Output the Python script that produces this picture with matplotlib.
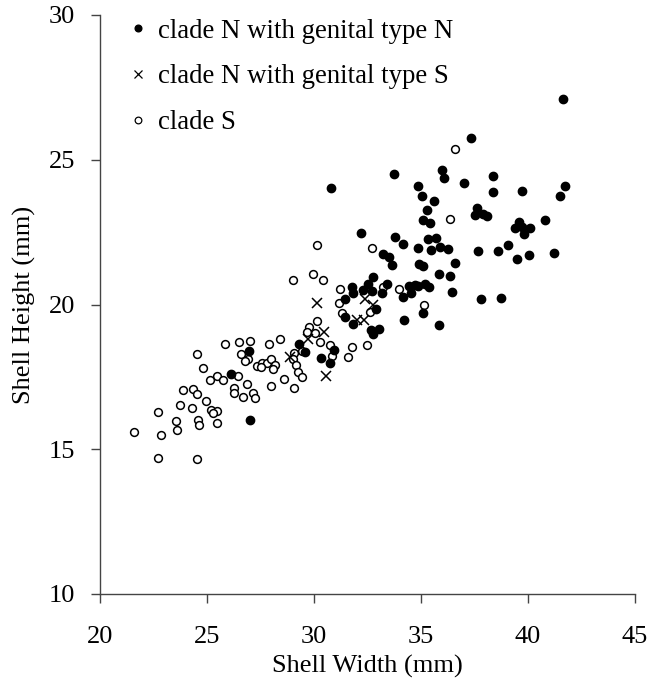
import matplotlib
matplotlib.use("Agg")
import matplotlib.pyplot as plt
from matplotlib.lines import Line2D

plt.rcParams['font.family'] = ['Liberation Serif', 'DejaVu Serif']

# clade N with genital type N (filled)
nn_w = [30.81, 33.74, 35.96, 36.09, 34.86, 35.06, 35.59, 35.26, 35.11, 35.42,
        32.21, 33.80, 34.16, 35.33, 35.68, 34.86, 35.47, 35.89, 36.24, 33.23,
        33.51, 33.66, 34.89, 35.11, 36.59, 35.82, 36.37, 32.77, 32.54, 31.79,
        33.43, 32.30, 32.69, 33.16, 31.80, 31.45, 34.45, 34.70, 34.88, 35.20,
        35.38, 34.55, 34.17, 36.45, 32.92, 35.11, 34.21, 35.85, 31.45, 31.80,
        32.68, 33.02, 32.77, 30.95, 30.32, 30.75, 29.29, 29.60, 26.94, 26.10,
        27.01, 41.64, 37.34, 38.38, 36.99, 38.38, 39.70, 41.71, 41.50, 37.60,
        37.54, 37.88, 38.10, 40.79, 39.56, 39.41, 39.72, 40.11, 39.83, 39.07,
        38.58, 37.68, 40.05, 39.49, 41.21, 37.82, 38.72]
nn_h = [24.02, 24.51, 24.65, 24.36, 24.08, 23.75, 23.59, 23.26, 22.92, 22.80,
        22.48, 22.34, 22.10, 22.26, 22.30, 21.95, 21.89, 22.00, 21.91, 21.73,
        21.63, 21.38, 21.40, 21.33, 21.42, 21.05, 20.99, 20.96, 20.71, 20.62,
        20.71, 20.50, 20.45, 20.41, 20.39, 20.18, 20.63, 20.66, 20.64, 20.70,
        20.62, 20.39, 20.27, 20.42, 19.83, 19.72, 19.46, 19.28, 19.58, 19.32,
        19.13, 19.15, 18.97, 18.43, 18.16, 17.97, 18.65, 18.36, 18.38, 17.59,
        16.00, 27.10, 25.75, 24.45, 24.21, 23.88, 23.93, 24.08, 23.75, 23.32,
        23.10, 23.11, 23.06, 22.92, 22.86, 22.64, 22.69, 22.64, 22.43, 22.06,
        21.86, 21.86, 21.71, 21.57, 21.77, 20.19, 20.22]

# clade N with genital type S (crosses)
ns_w = [30.16, 32.38, 32.78, 31.99, 32.32, 30.45, 29.70, 28.90, 30.57]
ns_h = [20.04, 20.20, 19.99, 19.45, 19.48, 19.05, 18.82, 18.19, 17.52]

# clade S (open)
s_w = [25.83, 26.51, 27.01, 27.91, 24.52, 26.57, 26.92, 26.79, 24.80, 25.48,
       25.14, 25.76, 26.45, 27.35, 27.57, 27.79, 27.97, 28.19, 28.10, 27.54,
       27.97, 26.85, 26.26, 26.26, 26.67, 27.16, 27.23, 23.89, 24.36, 24.52,
       24.93, 23.75, 24.30, 22.73, 25.17, 25.48, 25.30, 23.55, 24.56, 24.64,
       25.48, 23.61, 21.60, 22.85, 22.71, 24.52, 28.39, 29.02, 31.21, 31.15,
       31.29, 30.12, 29.78, 29.66, 30.05, 30.28, 30.75, 30.82, 29.42, 29.08,
       29.03, 29.16, 29.27, 29.44, 28.60, 29.08, 31.78, 31.59, 32.48, 32.62,
       36.57, 36.36, 30.12, 32.69, 29.97, 30.40, 33.98, 33.21, 35.12]
s_h = [18.64, 18.72, 18.75, 18.64, 18.29, 18.29, 18.11, 18.06, 17.82, 17.54,
       17.38, 17.38, 17.54, 17.88, 17.97, 17.99, 18.11, 17.92, 17.76, 17.83,
       17.20, 17.25, 17.11, 16.93, 16.82, 16.95, 16.76, 17.05, 17.09, 16.91,
       16.67, 16.53, 16.41, 16.29, 16.36, 16.33, 16.24, 15.97, 16.01, 15.85,
       15.91, 15.66, 15.61, 15.50, 14.70, 14.65, 18.80, 20.85, 20.53, 20.04,
       19.71, 19.44, 19.23, 19.06, 19.00, 18.69, 18.60, 18.22, 18.40, 18.31,
       18.11, 17.91, 17.68, 17.49, 17.44, 17.11, 18.54, 18.20, 18.59, 19.75,
       25.36, 22.97, 22.05, 21.95, 21.05, 20.85, 20.52, 20.62, 19.99]

labels = ["clade N with genital type N", "clade N with genital type S", "clade S"]
x_ticks = [20, 25, 30, 35, 40, 45]
y_ticks = [10, 15, 20, 25, 30]

fig = plt.figure(figsize=(6.61, 6.90), dpi=100)
ax = fig.add_axes([100/661, 1-594/690, 535/661, 579/690])

ax.plot(s_w, s_h, linestyle='none', marker='o', markersize=5.6,
        markerfacecolor='white', markeredgecolor='black', markeredgewidth=1.1)
ax.plot(nn_w, nn_h, linestyle='none', marker='o', markersize=6.0,
        markerfacecolor='black', markeredgecolor='black')
ax.plot(ns_w, ns_h, linestyle='none', marker='x', markersize=7.0,
        color='black', markeredgewidth=1.1)

ax.set_xlim(20, 45)
ax.set_ylim(10, 30)
ax.set_xticks(x_ticks)
ax.set_yticks(y_ticks)
for s in ['top', 'right']:
    ax.spines[s].set_visible(False)
for s in ['left', 'bottom']:
    ax.spines[s].set_color('#444444')
    ax.spines[s].set_linewidth(1.0)
ax.tick_params(axis='both', direction='out', length=6.8, width=1.0,
               color='#444444', labelsize=19, labelcolor='black')
ax.tick_params(axis='x', pad=16)
ax.tick_params(axis='y', pad=11)

ax.set_xlabel("Shell Width (mm)", fontsize=19, labelpad=5)
ax.set_ylabel("Shell Height (mm)", fontsize=19, labelpad=9)

handles = [
    Line2D([], [], linestyle='none', marker='o', markersize=4.8,
           markerfacecolor='black', markeredgecolor='black'),
    Line2D([], [], linestyle='none', marker='x', markersize=5.5,
           color='black', markeredgewidth=0.9),
    Line2D([], [], linestyle='none', marker='o', markersize=4.8,
           markerfacecolor='white', markeredgecolor='black', markeredgewidth=0.9),
]
ax.legend(handles, labels, loc='upper left', bbox_to_anchor=(0.036, 1.012),
          frameon=False, fontsize=19.3, handlelength=0.6, handletextpad=0.45,
          labelspacing=0.77, borderaxespad=0)

fig.savefig("out.png", dpi=100)
